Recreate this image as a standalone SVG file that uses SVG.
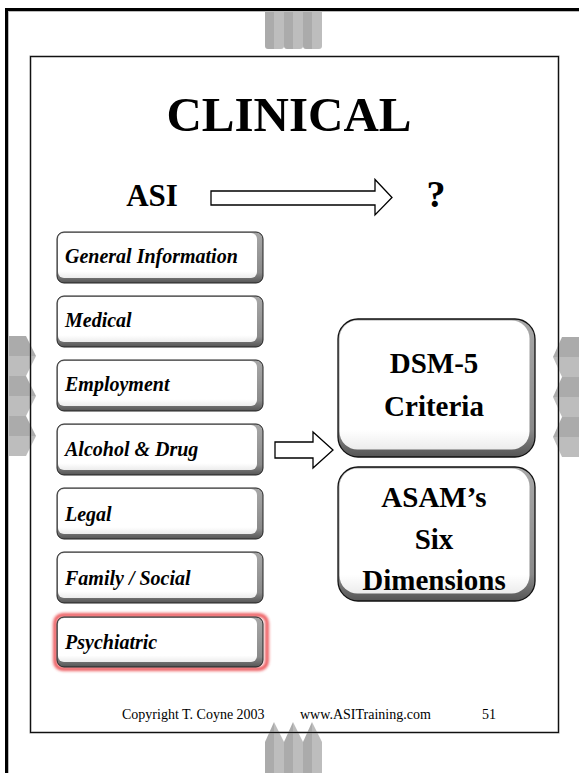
<svg xmlns="http://www.w3.org/2000/svg" width="579" height="773" viewBox="0 0 579 773">
<defs>
<style>
.t{font-family:"Liberation Serif","Times New Roman",serif;font-weight:bold;fill:#000}
.bi{font-family:"Liberation Serif","Times New Roman",serif;font-weight:bold;font-style:italic;font-size:20px;fill:#000}
.ft{font-family:"Liberation Serif","Times New Roman",serif;font-size:14px;fill:#000}
.dk{fill:#ababab}
.lt{fill:#bdbdbd}
.arr{fill:#fff;stroke:#000;stroke-width:1.3}
</style>
<linearGradient id="bev" x1="0" y1="0" x2="0" y2="1">
<stop offset="0" stop-color="#a8a8a8"/>
<stop offset="0.8" stop-color="#8a8a8a"/>
<stop offset="1" stop-color="#555"/>
</linearGradient>
<linearGradient id="face" x1="0" y1="0" x2="0" y2="1">
<stop offset="0" stop-color="#fff"/>
<stop offset="0.85" stop-color="#fff"/>
<stop offset="1" stop-color="#ececec"/>
</linearGradient>
<filter id="glow" x="-10%" y="-20%" width="120%" height="140%">
<feGaussianBlur stdDeviation="1.6"/>
</filter>
</defs>
<rect width="579" height="773" fill="#fff"/>

<g id="binding">
<g id="top-tabs">
<path class="dk" d="M265,10 H274 V49 H268 Q265,49 265,46 Z"/>
<path class="lt" d="M274,10 H284 V46 Q284,49 281,49 H274 Z"/>
<path class="dk" d="M284,10 H293 V49 H287 Q284,49 284,46 Z"/>
<path class="lt" d="M293,10 H303 V46 Q303,49 300,49 H293 Z"/>
<path class="dk" d="M303,10 H312 V49 H306 Q303,49 303,46 Z"/>
<path class="lt" d="M312,10 H322 V46 Q322,49 319,49 H312 Z"/>
</g>
<g id="bottom-tabs">
<path class="dk" d="M265,742 L274,722 V773 H265 Z"/>
<path class="lt" d="M274,722 L284,742 V773 H274 Z"/>
<path class="dk" d="M284,742 L293,722 V773 H284 Z"/>
<path class="lt" d="M293,722 L303,742 V773 H293 Z"/>
<path class="dk" d="M303,742 L312,722 V773 H303 Z"/>
<path class="lt" d="M312,722 L322,742 V773 H312 Z"/>
</g>
<g id="left-tabs">
<path class="dk" d="M8,336 H26 L36,356 H8 Z"/>
<path class="lt" d="M8,356 H36 L26,376 H8 Z"/>
<path class="dk" d="M8,376 H26 L36,396 H8 Z"/>
<path class="lt" d="M8,396 H36 L26,416 H8 Z"/>
<path class="dk" d="M8,416 H26 L36,436 H8 Z"/>
<path class="lt" d="M8,436 H36 L26,456 H8 Z"/>
</g>
<g id="right-tabs">
<path class="dk" d="M579,337 H562 L553,357 H579 Z"/>
<path class="lt" d="M579,357 H553 L562,377 H579 Z"/>
<path class="dk" d="M579,377 H562 L553,397 H579 Z"/>
<path class="lt" d="M579,397 H553 L562,417 H579 Z"/>
<path class="dk" d="M579,417 H562 L553,437 H579 Z"/>
<path class="lt" d="M579,437 H553 L562,457 H579 Z"/>
</g>
</g>

<g id="frames">
<rect x="6.5" y="9.5" width="600" height="800" fill="none" stroke="#000" stroke-width="3"/>
<rect x="8.5" y="11.5" width="600" height="800" fill="none" stroke="#bbb" stroke-width="1"/>
<rect x="30.5" y="56.5" width="528" height="676" fill="none" stroke="#888" stroke-width="2"/>
<rect x="30.5" y="56.5" width="528" height="676" fill="none" stroke="#111" stroke-width="1"/>
</g>

<text class="t" x="289" y="131" font-size="49" text-anchor="middle">CLINICAL</text>

<g id="asi">
<text class="t" x="152" y="206" font-size="31" text-anchor="middle">ASI</text>
</g>
<g id="question">
<text class="t" x="436" y="207" font-size="38" text-anchor="middle">?</text>
</g>

<g id="connectors">
<path class="arr" d="M211,191 H375 V179.5 L392,197.5 L375,215 V205 H211 Z"/>
<path class="arr" d="M275,442 H313 V432 L333,450 L313,468 V458 H275 Z"/>
</g>

<g id="psych-glow">
<rect x="55" y="615" width="212" height="54" rx="8" fill="none" stroke="#e8363a" stroke-width="3.5" filter="url(#glow)" opacity="0.9"/>
</g>

<g id="general-information">
<rect x="57" y="232" width="206" height="51" rx="7" fill="url(#bev)" stroke="#222" stroke-width="1"/>
<rect x="58" y="233" width="199" height="45" rx="6" fill="url(#face)"/>
<text class="bi" x="65" y="263">General Information</text>
</g>
<g id="medical">
<rect x="57" y="296" width="206" height="51" rx="7" fill="url(#bev)" stroke="#222" stroke-width="1"/>
<rect x="58" y="297" width="199" height="45" rx="6" fill="url(#face)"/>
<text class="bi" x="65" y="327">Medical</text>
</g>
<g id="employment">
<rect x="57" y="360" width="206" height="51" rx="7" fill="url(#bev)" stroke="#222" stroke-width="1"/>
<rect x="58" y="361" width="199" height="45" rx="6" fill="url(#face)"/>
<text class="bi" x="65" y="391">Employment</text>
</g>
<g id="alcohol-drug">
<rect x="57" y="424" width="206" height="51" rx="7" fill="url(#bev)" stroke="#222" stroke-width="1"/>
<rect x="58" y="425" width="199" height="45" rx="6" fill="url(#face)"/>
<text class="bi" x="65" y="456">Alcohol &amp; Drug</text>
</g>
<g id="legal">
<rect x="57" y="488" width="206" height="51" rx="7" fill="url(#bev)" stroke="#222" stroke-width="1"/>
<rect x="58" y="489" width="199" height="45" rx="6" fill="url(#face)"/>
<text class="bi" x="65" y="521">Legal</text>
</g>
<g id="family-social">
<rect x="57" y="552" width="206" height="51" rx="7" fill="url(#bev)" stroke="#222" stroke-width="1"/>
<rect x="58" y="553" width="199" height="45" rx="6" fill="url(#face)"/>
<text class="bi" x="65" y="585">Family / Social</text>
</g>
<g id="psychiatric">
<rect x="57" y="617" width="206" height="50" rx="7" fill="url(#bev)" stroke="#222" stroke-width="1"/>
<rect x="58" y="618" width="199" height="44" rx="6" fill="url(#face)"/>
<text class="bi" x="65" y="649">Psychiatric</text>
</g>

<g id="dsm5-criteria">
<rect x="338" y="319" width="197" height="138" rx="20" fill="url(#bev)" stroke="#111" stroke-width="1.3"/>
<rect x="339.5" y="320.5" width="190" height="129" rx="18" fill="url(#face)"/>
<text class="t" x="434" y="373" font-size="29" text-anchor="middle">DSM-5</text>
<text class="t" x="434" y="416" font-size="29" text-anchor="middle">Criteria</text>
</g>
<g id="asam-six-dimensions">
<rect x="338" y="467" width="197" height="134" rx="20" fill="url(#bev)" stroke="#111" stroke-width="1.3"/>
<rect x="339.5" y="468.5" width="190" height="125" rx="18" fill="url(#face)"/>
<text class="t" x="434" y="507" font-size="29" text-anchor="middle">ASAM’s</text>
<text class="t" x="434" y="549" font-size="29" text-anchor="middle">Six</text>
<text class="t" x="434" y="590" font-size="29" text-anchor="middle">Dimensions</text>
</g>

<g id="footer">
<text class="ft" x="122" y="719">Copyright T. Coyne 2003</text>
<text class="ft" x="300" y="719">www.ASITraining.com</text>
<text class="ft" x="482" y="719">51</text>
</g>
</svg>
